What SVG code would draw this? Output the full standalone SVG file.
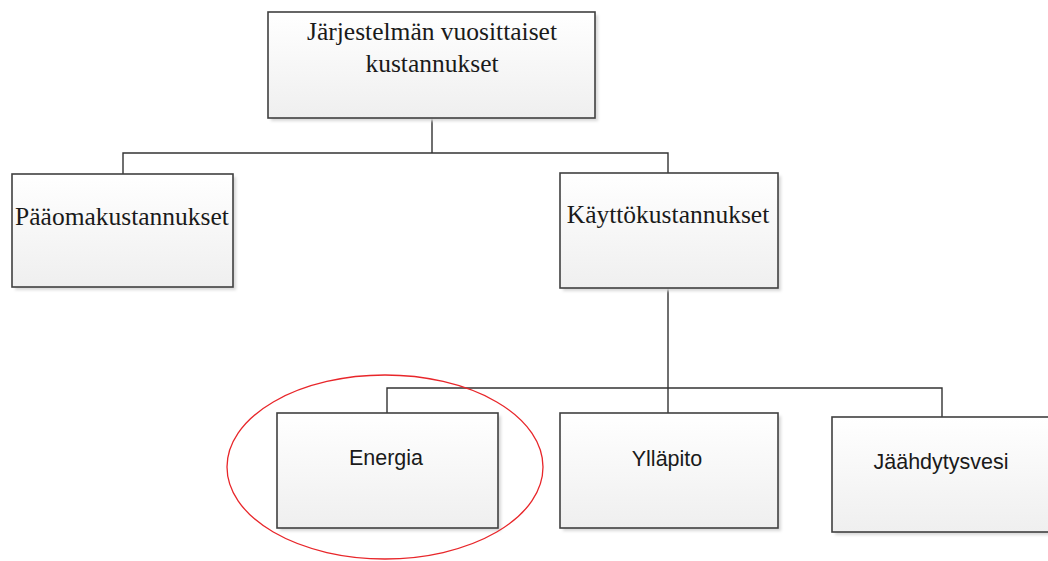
<svg xmlns="http://www.w3.org/2000/svg" width="1048" height="561" viewBox="0 0 1048 561">
<style>
.box{fill:url(#g);stroke:#404040;stroke-width:1.6}
.sh{fill:#d8d8d8;filter:url(#b)}
.serif{font-family:"Liberation Serif","Times New Roman",serif;font-size:25.5px;fill:#1a1a1a;text-anchor:middle}
.sans{font-family:"Liberation Sans",Arial,sans-serif;font-size:21.5px;fill:#1a1a1a;text-anchor:middle}
.con{fill:none;stroke:#333;stroke-width:1.4}
</style>
<defs>
<linearGradient id="g" x1="0" y1="0" x2="0" y2="1">
<stop offset="0" stop-color="#ffffff"/>
<stop offset="1" stop-color="#efefef"/>
</linearGradient>
<filter id="b" x="-10%" y="-10%" width="120%" height="120%"><feGaussianBlur stdDeviation="1.5"/></filter>
</defs>
<rect width="1048" height="561" fill="#fff"/>
<g id="connectors">
<path class="con" d="M432 118 V153 M123 174 V153 H668 V173"/>
<path class="con" d="M668 288 V388 M387 413 V388 H942 V417 M668 388 V413"/>
</g>
<g id="n-top">
<rect class="sh" x="271" y="15" width="327" height="106"/>
<rect class="box" x="268" y="12" width="327" height="106"/>
<text class="serif" x="432" y="40">Järjestelmän vuosittaiset</text>
<text class="serif" x="432" y="72">kustannukset</text>
</g>
<g id="n-paaoma">
<rect class="sh" x="15" y="177" width="221" height="113"/>
<rect class="box" x="12" y="174" width="221" height="113"/>
<text class="serif" x="122" y="225">Pääomakustannukset</text>
</g>
<g id="n-kaytto">
<rect class="sh" x="563" y="176" width="218" height="115"/>
<rect class="box" x="560" y="173" width="218" height="115"/>
<text class="serif" x="668" y="223">Käyttökustannukset</text>
</g>
<g id="n-energia">
<rect class="sh" x="280" y="416" width="221" height="115"/>
<rect class="box" x="277" y="413" width="221" height="115"/>
<text class="sans" x="386" y="465">Energia</text>
</g>
<g id="n-yllapito">
<rect class="sh" x="563" y="416" width="218" height="115"/>
<rect class="box" x="560" y="413" width="218" height="115"/>
<text class="sans" x="667" y="466">Ylläpito</text>
</g>
<g id="n-jaahdytys">
<rect class="sh" x="835" y="420" width="220" height="115"/>
<rect class="box" x="832" y="417" width="220" height="115"/>
<text class="sans" x="941" y="469">Jäähdytysvesi</text>
</g>
<g id="highlight">
<ellipse cx="385" cy="467" rx="158" ry="92" fill="none" stroke="#e8262a" stroke-width="1.3"/>
</g>
</svg>
